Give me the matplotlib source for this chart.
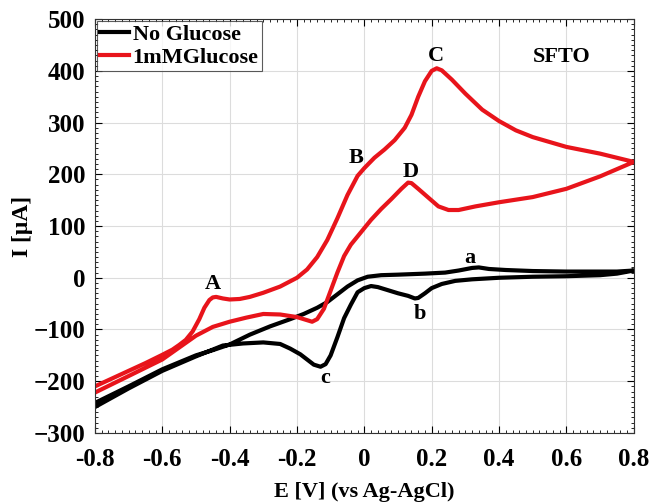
import matplotlib
matplotlib.use("Agg")
import matplotlib.pyplot as plt
from matplotlib.ticker import AutoMinorLocator

plt.rcParams['font.family'] = ['Liberation Serif', 'DejaVu Serif']
plt.rcParams['font.weight'] = 'bold'

# 1 mM glucose, forward scan (-0.8 -> 0.8 V)
red_fwd_v = [-0.8, -0.75, -0.7, -0.65, -0.6, -0.57, -0.55, -0.53, -0.51, -0.49, -0.475,
             -0.46, -0.45, -0.44, -0.42, -0.40, -0.37, -0.34, -0.30, -0.25, -0.20, -0.17,
             -0.14, -0.11, -0.08, -0.05, -0.02, 0.0, 0.03, 0.06, 0.09, 0.12, 0.14, 0.16,
             0.18, 0.20, 0.215, 0.23, 0.26, 0.30, 0.35, 0.40, 0.45, 0.50, 0.60, 0.70, 0.80]
red_fwd_i = [-210, -195, -180, -165, -149, -139, -130, -120, -104, -80, -58,
             -43, -38, -37, -40, -42, -41, -37, -29, -17, 0, 16,
             40, 73, 115, 160, 197, 212, 232, 248, 266, 290, 315, 350,
             380, 400, 405, 401, 383, 356, 325, 303, 285, 272, 253, 240, 224]
# 1 mM glucose, reverse scan (0.8 -> -0.8 V)
red_rev_v = [0.8, 0.7, 0.6, 0.5, 0.4, 0.33, 0.28, 0.25, 0.22, 0.19, 0.16, 0.14, 0.13,
             0.11, 0.08, 0.05, 0.02, -0.01, -0.04, -0.06, -0.08, -0.10, -0.12, -0.14,
             -0.155, -0.17, -0.20, -0.25, -0.30, -0.35, -0.40, -0.45, -0.50, -0.55,
             -0.60, -0.70, -0.80]
red_rev_i = [224, 196, 172, 156, 146, 138, 131, 131, 138, 155, 172, 183, 184,
             172, 152, 133, 112, 88, 64, 42, 10, -25, -60, -80,
             -85, -82, -76, -71, -70, -77, -85, -95, -112, -135,
             -158, -190, -222]

# no glucose, forward scan
blk_fwd_v = [-0.8, -0.7, -0.6, -0.5, -0.45, -0.40, -0.34, -0.28, -0.22, -0.18, -0.14,
             -0.11, -0.08, -0.05, -0.02, 0.01, 0.05, 0.10, 0.18, 0.24, 0.28, 0.32,
             0.34, 0.37, 0.42, 0.50, 0.60, 0.70, 0.75, 0.80]
blk_fwd_i = [-242, -210, -177, -150, -140, -129, -110, -94, -80, -70, -58,
             -47, -32, -17, -5, 2, 5, 6, 8, 10, 14, 19,
             20, 17, 15, 13, 12, 12, 12, 14]
# no glucose, reverse scan
blk_rev_v = [0.8, 0.75, 0.7, 0.6, 0.5, 0.4, 0.32, 0.27, 0.23, 0.20, 0.18, 0.16, 0.15,
             0.13, 0.10, 0.07, 0.04, 0.02, 0.0, -0.02, -0.04, -0.06, -0.08, -0.10,
             -0.115, -0.13, -0.15, -0.17, -0.19, -0.22, -0.25, -0.30, -0.36, -0.42,
             -0.50, -0.60, -0.70, -0.80]
blk_rev_i = [14, 8, 5, 3, 2, 0, -3, -6, -12, -20, -30, -39, -40,
             -35, -30, -24, -18, -16, -20, -28, -52, -78, -115, -150,
             -167, -172, -168, -158, -148, -137, -128, -125, -127, -131,
             -152, -180, -214, -250]

peak_labels = ['A', 'B', 'C', 'D', 'a', 'b', 'c']
peak_v = [-0.45, -0.025, 0.212, 0.138, 0.313, 0.164, -0.115]
peak_i = [-12, 232, 428, 205, 38, -70, -194]

fig = plt.figure(figsize=(6.5, 5.04), dpi=100)
ax = fig.add_axes([0.146, 0.141, 0.829, 0.821])

ax.plot(blk_fwd_v + blk_rev_v, blk_fwd_i + blk_rev_i, color='black', lw=3,
        solid_joinstyle='round', label='No Glucose')
ax.plot(red_fwd_v + red_rev_v, red_fwd_i + red_rev_i, color='#e8141b', lw=3,
        solid_joinstyle='round', label='1mMGlucose')

for lab, v, i in zip(peak_labels, peak_v, peak_i):
    ax.text(v, i, lab, fontsize=16, fontweight='bold', ha='center', va='center')
ax.text(0.586, 427, 'SFTO', fontsize=16, fontweight='bold', ha='center', va='center')

ax.set_xlim(-0.8, 0.8)
ax.set_ylim(-300, 500)
ax.set_xticks([-0.8, -0.6, -0.4, -0.2, 0, 0.2, 0.4, 0.6, 0.8])
ax.set_xticklabels(['-0.8', '-0.6', '-0.4', '-0.2', '0', '0.2', '0.4', '0.6', '0.8'])
ax.set_yticks(range(-300, 501, 100))
ax.xaxis.set_minor_locator(AutoMinorLocator(10))
ax.yaxis.set_minor_locator(AutoMinorLocator(10))
ax.tick_params(which='both', direction='in', top=True, right=True, labelsize=18, pad=7)
ax.tick_params(axis='x', which='major', pad=11)
ax.tick_params(which='major', length=5, width=0.8)
ax.tick_params(which='minor', length=2.5, width=0.6)
for lbl in ax.get_xticklabels() + ax.get_yticklabels():
    lbl.set_fontweight('bold')
ax.grid(True, color='#dcdcdc', lw=0.8)
ax.set_axisbelow(True)
for sp in ax.spines.values():
    sp.set_color('#333333')
    sp.set_linewidth(0.8)

ax.set_xlabel('E [V] (vs Ag-AgCl)', fontsize=16, fontweight='bold', labelpad=8)
ax.set_ylabel('I [μA]', fontsize=17, fontweight='bold', labelpad=0)

leg = ax.legend(loc='upper left', fontsize=16, frameon=True, fancybox=False,
                borderaxespad=0.1, handlelength=1.3, handletextpad=0.15,
                borderpad=0.15, labelspacing=0.1)
leg.get_frame().set_edgecolor('#333333')
leg.get_frame().set_linewidth(0.8)
for txt in leg.get_texts():
    txt.set_fontweight('bold')

fig.savefig('out.png', dpi=100)
